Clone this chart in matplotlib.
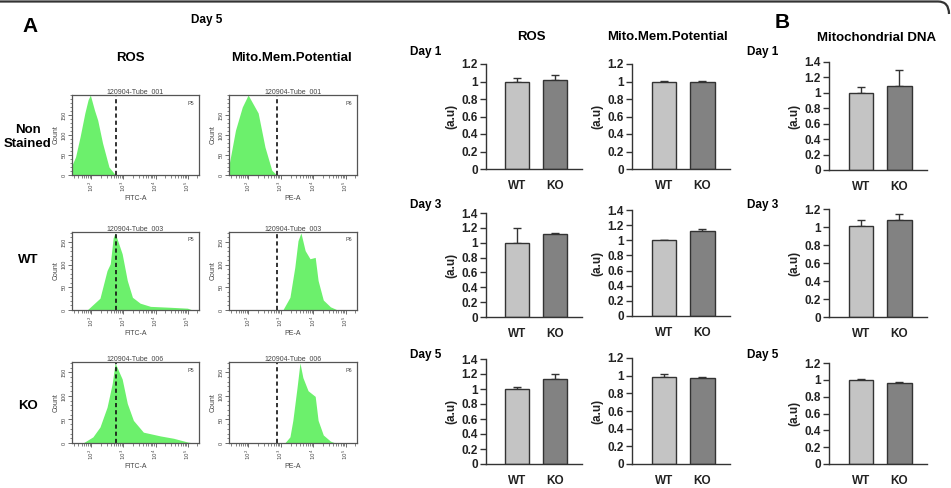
import matplotlib
matplotlib.use('Agg')
import matplotlib.pyplot as plt
import matplotlib.ticker as mt
from matplotlib.path import Path
from matplotlib.patches import PathPatch
import numpy as np

plt.rcParams['font.family'] = ['Liberation Sans', 'DejaVu Sans']

# ---------------- data ----------------
# Flow cytometry histograms (log10 fluorescence, count)
ns_ros_log = [1.40, 1.51, 1.65, 1.80, 1.90, 1.97, 2.10, 2.20, 2.35, 2.55, 2.75]
ns_ros_count = [25, 45, 95, 155, 188, 200, 162, 137, 80, 20, 0]
ns_mito_log = [1.40, 1.60, 1.81, 1.99, 2.30, 2.51, 2.72, 2.87]
ns_mito_count = [25, 112, 170, 200, 155, 70, 12, 0]
wt_ros_log = [1.87, 2.27, 2.49, 2.59, 2.68, 2.74, 2.96, 3.12, 3.28, 3.52, 3.84, 4.46, 4.99, 5.15]
wt_ros_count = [0, 26, 87, 102, 159, 170, 124, 65, 28, 15, 8, 6, 4, 0]
wt_mito_log = [3.06, 3.28, 3.43, 3.53, 3.62, 3.75, 3.90, 4.06, 4.15, 4.31, 4.53, 4.75]
wt_mito_count = [0, 28, 94, 153, 170, 131, 113, 116, 65, 22, 7, 0]
ko_ros_log = [1.74, 2.05, 2.27, 2.49, 2.65, 2.74, 2.96, 3.12, 3.31, 3.62, 4.15, 4.56, 5.00, 5.18]
ko_ros_count = [0, 13, 34, 76, 126, 170, 136, 84, 48, 23, 15, 10, 2, 0]
ko_mito_log = [3.12, 3.28, 3.37, 3.50, 3.59, 3.68, 3.84, 4.06, 4.15, 4.31, 4.53, 4.68]
ko_mito_count = [0, 13, 48, 118, 170, 139, 111, 99, 48, 17, 4, 0]
ros_gate_log = 2.77
mito_gate_log = 2.88
tube_names = ['120904-Tube_001', '120904-Tube_003', '120904-Tube_006']
row_labels = ['Non\nStained', 'WT', 'KO']

# Bar charts
days = ['Day 1', 'Day 3', 'Day 5']
groups = ['WT', 'KO']
ros_mean = [[1.00, 1.02], [1.00, 1.12], [1.00, 1.13]]
ros_err = [[0.04, 0.06], [0.20, 0.01], [0.03, 0.07]]
mmp_mean = [[1.00, 1.00], [1.00, 1.12], [0.99, 0.97]]
mmp_err = [[0.01, 0.01], [0.01, 0.03], [0.03, 0.02]]
mtdna_mean = [[1.00, 1.09], [1.01, 1.08], [1.00, 0.96]]
mtdna_err = [[0.08, 0.20], [0.07, 0.06], [0.01, 0.01]]
ros_ymax = [1.2, 1.4, 1.4]
mmp_ymax = [1.2, 1.4, 1.2]
mtdna_ymax = [1.4, 1.2, 1.2]

# ---------------- figure ----------------
W, H = 951, 488
fig = plt.figure(figsize=(W / 100, H / 100), dpi=100)


def px_axes(x0, y0, x1, y1):
    return fig.add_axes([x0 / W, 1 - y1 / H, (x1 - x0) / W, (y1 - y0) / H])


def ftext(x, y, s, **kw):
    kw.setdefault('fontweight', 'bold')
    kw.setdefault('ha', 'center')
    kw.setdefault('va', 'center')
    fig.text(x / W, 1 - y / H, s, **kw)


GREEN = '#6cf06c'
EDGE = '#555555'


def flow(ax, logx, counts, ymax, gate, tube, pname, xlabel):
    x = 10 ** np.array(logx)
    ax.fill_between(x, counts, 0, color=GREEN, lw=0)
    ax.set_xscale('log')
    ax.set_xlim(10 ** 1.4, 10 ** 5.35)
    ax.set_ylim(0, ymax)
    ax.axvline(10 ** gate, color='#111111', ls=(0, (2.5, 1.8)), lw=1.2)
    ax.set_xticks([1e2, 1e3, 1e4, 1e5])
    ax.set_xticklabels([r'$10^2$', r'$10^3$', r'$10^4$', r'$10^5$'], rotation=90)
    ax.xaxis.set_minor_locator(mt.LogLocator(base=10, subs=np.arange(2, 10), numticks=20))
    ax.xaxis.set_minor_formatter(mt.NullFormatter())
    ax.set_yticks([0, 50, 100, 150])
    ax.set_yticklabels(['0', '50', '100', '150'], rotation=90, va='center')
    ax.yaxis.set_minor_locator(mt.MultipleLocator(10))
    ax.tick_params(which='major', direction='out', length=3, width=0.6,
                   labelsize=4, color=EDGE, labelcolor='#444444', pad=1)
    ax.tick_params(which='minor', direction='out', length=1.8, width=0.5, color=EDGE)
    for s in ax.spines.values():
        s.set_color(EDGE)
        s.set_linewidth(0.9)
    ax.set_title(tube, fontsize=5, pad=1.5, color='#444444')
    ax.text(0.96, 0.93, pname, transform=ax.transAxes, ha='right', va='top',
            fontsize=4, color='#444444')
    ax.set_xlabel(xlabel, fontsize=5, labelpad=2, color='#444444')
    ax.set_ylabel('Count', fontsize=5, labelpad=1, color='#444444')


flow_rows = [(95, 175, 200), (232, 310, 172), (362, 443, 172)]
ros_data = [(ns_ros_log, ns_ros_count), (wt_ros_log, wt_ros_count), (ko_ros_log, ko_ros_count)]
mito_data = [(ns_mito_log, ns_mito_count), (wt_mito_log, wt_mito_count), (ko_mito_log, ko_mito_count)]
for i, (y0, y1, ym) in enumerate(flow_rows):
    a1 = px_axes(72, y0, 199, y1)
    flow(a1, ros_data[i][0], ros_data[i][1], ym, ros_gate_log, tube_names[i], 'P5', 'FITC-A')
    a2 = px_axes(229, y0, 357, y1)
    flow(a2, mito_data[i][0], mito_data[i][1], ym, mito_gate_log, tube_names[i], 'P6', 'PE-A')

WT_C = '#c4c4c4'
KO_C = '#828282'
DARK = '#333333'


def bars(ax, means, errs, ytop):
    xs = np.arange(len(groups))
    ax.bar(xs, means, width=0.63, color=[WT_C, KO_C], edgecolor=DARK, lw=1.0, zorder=2)
    ax.errorbar(xs, means, yerr=[np.zeros(len(errs)), errs], fmt='none', ecolor=DARK,
                elinewidth=1.0, capsize=3, capthick=1.0, zorder=1)
    ax.set_xlim(-0.82, 1.71)
    ax.set_ylim(0, ytop)
    ticks = np.round(np.arange(0, ytop + 0.001, 0.2), 1)
    ax.set_yticks(ticks)
    ax.set_yticklabels(['%g' % t for t in ticks], fontweight='bold')
    ax.set_xticks(xs)
    ax.set_xticklabels(groups, fontweight='bold')
    ax.spines['top'].set_visible(False)
    ax.spines['right'].set_visible(False)
    for s in ('left', 'bottom'):
        ax.spines[s].set_color(DARK)
        ax.spines[s].set_linewidth(1.0)
    ax.tick_params(axis='y', direction='out', length=4, width=1.0, color=DARK,
                   labelsize=8.5, pad=2, labelcolor='#222222')
    ax.tick_params(axis='x', length=0, labelsize=8.5, pad=8, labelcolor='#222222')
    ax.set_ylabel('(a.u)', fontweight='bold', fontsize=8.5, labelpad=3, color='#222222')


ros_rows = [(64, 169), (213, 317), (359, 464)]
mmp_rows = [(64, 169), (210, 316), (358, 464)]
mt_rows = [(62, 170), (209, 317), (363, 464)]
for i in range(3):
    a = px_axes(486, ros_rows[i][0], 582, ros_rows[i][1])
    bars(a, ros_mean[i], ros_err[i], ros_ymax[i])
    a = px_axes(632, mmp_rows[i][0], 730, mmp_rows[i][1])
    bars(a, mmp_mean[i], mmp_err[i], mmp_ymax[i])
    a = px_axes(829, mt_rows[i][0], 927, mt_rows[i][1])
    bars(a, mtdna_mean[i], mtdna_err[i], mtdna_ymax[i])

# ---------------- texts ----------------
ftext(30, 27, 'A', fontsize=15)
ftext(782, 22, 'B', fontsize=15)
ftext(207, 20, 'Day 5', fontsize=8.5)
ftext(130, 58, 'ROS', fontsize=9.5)
ftext(291, 58, 'Mito.Mem.Potential', fontsize=9.5)
ftext(531, 37, 'ROS', fontsize=9.5)
ftext(668, 37, 'Mito.Mem.Potential', fontsize=9.5)
ftext(877, 38, 'Mitochondrial DNA', fontsize=9.5)
ftext(28, 137, row_labels[0], fontsize=9.5, linespacing=1.15)
ftext(28, 260, row_labels[1], fontsize=9.5)
ftext(28, 406, row_labels[2], fontsize=9.5)
day_y = [52, 205, 355]
for i, d in enumerate(days):
    ftext(410, day_y[i], d, fontsize=8.5, ha='left')
    ftext(747, day_y[i], d, fontsize=8.5, ha='left')

# frame (top border with rounded corner)
verts = [(0, 1.5), (938, 1.5), (949, 1.5), (949, 14)]
codes = [Path.MOVETO, Path.LINETO, Path.CURVE3, Path.CURVE3]
verts_f = [(vx / W, 1 - vy / H) for vx, vy in verts]
fig.patches.append(PathPatch(Path(verts_f, codes), transform=fig.transFigure,
                             fill=False, edgecolor='#333333', lw=1.6))

fig.savefig('out.png', dpi=100)
